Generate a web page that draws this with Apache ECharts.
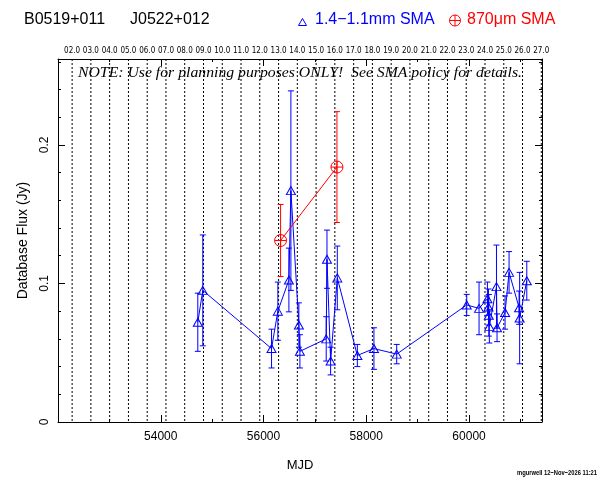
<!DOCTYPE html>
<html><head><meta charset="utf-8">
<script src="https://cdn.jsdelivr.net/npm/echarts@6/dist/echarts.min.js"></script>
<style>html,body{margin:0;padding:0;background:#fff}#c{width:601px;height:481px}</style>
</head><body><div id="c"></div>
<script>
// ---- data ----
const blueMJD  = [54721, 54818, 56156, 56279, 56494, 56533, 56688, 56708, 57220, 57235, 57306, 57436, 57826, 58149, 58592, 59955, 60195, 60358, 60378, 60385, 60395, 60534, 60545, 60701, 60779, 60974, 60985, 61124];
const blueFlux = [0.072, 0.095, 0.053, 0.080, 0.1025, 0.167, 0.070, 0.051, 0.060, 0.1175, 0.044, 0.104, 0.048, 0.053, 0.049, 0.0845, 0.082, 0.089, 0.083, 0.077, 0.069, 0.0977, 0.068, 0.079, 0.108, 0.0825, 0.075, 0.102];
const blueErr  = [0.021, 0.040, 0.014, 0.021, 0.023, 0.072, 0.016, 0.012, 0.016, 0.021, 0.010, 0.023, 0.008, 0.015, 0.007, 0.0076, 0.019, 0.012, 0.013, 0.015, 0.012, 0.030, 0.010, 0.012, 0.015, 0.012, 0.033, 0.014];
const redMJD  = [56332, 57429];
const redFlux = [0.131, 0.184];
const redErr  = [0.026, 0.040];

const yearMJD    = [52275, 52640, 53005, 53371, 53736, 54101, 54466, 54832, 55197, 55562, 55927, 56293, 56658, 57023, 57388, 57754, 58119, 58484, 58849, 59215, 59580, 59945, 60310, 60676, 61041, 61406];
const yearLabels = ['02.0','03.0','04.0','05.0','06.0','07.0','08.0','09.0','10.0','11.0','12.0','13.0','14.0','15.0','16.0','17.0','18.0','19.0','20.0','21.0','22.0','23.0','24.0','25.0','26.0','27.0'];
const xLabelValues = [54000, 56000, 58000, 60000];
const xMajorTicks  = [54000, 56000, 58000, 60000];
const xMinorTicks  = [53000, 55000, 57000, 59000, 61000];
const yLabelValues = [0, 0.1, 0.2];
const yMajorTicks  = [0.1, 0.2];
const yMinorTicks  = [0.02, 0.04, 0.06, 0.08, 0.12, 0.14, 0.16, 0.18, 0.22, 0.24, 0.26];

const X_MIN = 52000, X_MAX = 61420, Y_MIN = 0, Y_MAX = 0.262;
const BLUE = '#0000ff', RED = '#ff0000';
const SANS = '"Liberation Sans", Arial, sans-serif';

function measure(text, font) {
  const ctx = document.createElement('canvas').getContext('2d');
  ctx.font = font;
  return ctx.measureText(text).width;
}

const noteText = 'NOTE: Use for planning purposes ONLY!  See SMA policy for details.';
const noteFont = 'italic 14px "Liberation Serif", serif';
const noteScale = 444 / measure(noteText, noteFont);
const footText = 'mgurwell 12\u2212Nov\u22122026 11:21';
const footFont = 'bold 8px "Liberation Sans", sans-serif';
const footScale = 80 / measure(footText, footFont);

function errRender(color, cap) {
  return function (params, api) {
    const x = api.value(0), lo = api.value(1), hi = api.value(2);
    const p1 = api.coord([x, lo]), p2 = api.coord([x, hi]);
    const s = { stroke: color, lineWidth: 1 };
    return { type: 'group', children: [
      { type: 'line', shape: { x1: p1[0], y1: p1[1], x2: p2[0], y2: p2[1] }, style: s },
      { type: 'line', shape: { x1: p1[0] - cap, y1: p1[1], x2: p1[0] + cap, y2: p1[1] }, style: s },
      { type: 'line', shape: { x1: p2[0] - cap, y1: p2[1], x2: p2[0] + cap, y2: p2[1] }, style: s }
    ]};
  };
}

function yearRender(params, api) {
  const x = api.coord([api.value(0), 0])[0];
  const cs = params.coordSys;
  return { type: 'line', shape: { x1: x, y1: cs.y, x2: x, y2: cs.y + cs.height },
    style: { stroke: '#000', lineWidth: 1, lineDash: [2, 2] } };
}

const lineBlack = { color: '#000', width: 1 };
function xAx(pos, ticks, len, showLine, extra) {
  return Object.assign({
    type: 'value', position: pos, min: X_MIN, max: X_MAX,
    axisLine: { show: showLine, onZero: false, lineStyle: lineBlack },
    axisTick: { show: true, inside: true, length: len, customValues: ticks, lineStyle: lineBlack },
    axisLabel: { show: false }, splitLine: { show: false }
  }, extra || {});
}
function yAx(pos, ticks, len, showLine, extra) {
  return Object.assign({
    type: 'value', position: pos, min: Y_MIN, max: Y_MAX,
    axisLine: { show: showLine, onZero: false, lineStyle: lineBlack },
    axisTick: { show: true, inside: true, length: len, customValues: ticks, lineStyle: lineBlack },
    axisLabel: { show: false }, splitLine: { show: false }
  }, extra || {});
}

const option = {
  animation: false,
  backgroundColor: '#fff',
  grid: { left: 58, right: 59, top: 59, bottom: 59, containLabel: false },
  xAxis: [
    xAx('bottom', xMajorTicks, 7, true, {
      axisLabel: { show: true, customValues: xLabelValues, fontSize: 12, fontFamily: SANS, color: '#000', margin: 9,
        formatter: function (v) { return String(v); } },
      name: 'MJD', nameLocation: 'middle', nameGap: 37,
      nameTextStyle: { fontSize: 13, fontFamily: SANS, color: '#000' }
    }),
    xAx('bottom', xMinorTicks, 3, false),
    xAx('top', xMajorTicks, 7, true),
    xAx('top', xMinorTicks, 3, false),
    {
      type: 'value', position: 'top', min: X_MIN, max: X_MAX,
      axisLine: { show: false }, axisTick: { show: false }, splitLine: { show: false },
      axisLabel: { show: true, customValues: yearMJD, margin: 4, fontSize: 8,
        fontFamily: '"DejaVu Sans Condensed", "DejaVu Sans", sans-serif', color: '#000',
        formatter: function (v) { const i = yearMJD.indexOf(v); return i >= 0 ? yearLabels[i] : ''; } }
    }
  ],
  yAxis: [
    yAx('left', yMajorTicks, 7, true, {
      axisLabel: { show: true, customValues: yLabelValues, rotate: 90, fontSize: 12, fontFamily: SANS, color: '#000', margin: 7,
        formatter: function (v) { return v === 0 ? '0' : String(Math.round(v * 10) / 10); } },
      name: 'Database Flux (Jy)', nameLocation: 'middle', nameRotate: 90, nameGap: 28,
      nameTextStyle: { fontSize: 14, fontFamily: SANS, color: '#000' }
    }),
    yAx('left', yMinorTicks, 3, false),
    yAx('right', yMajorTicks, 7, true),
    yAx('right', yMinorTicks, 3, false)
  ],
  series: [
    { type: 'custom', name: 'years', renderItem: yearRender, silent: true, z: 1,
      xAxisIndex: 0, yAxisIndex: 0, encode: { x: 0, y: 1 },
      data: yearMJD.map(function (v) { return [v, 0]; }) },
    { type: 'custom', name: 'blueErr', renderItem: errRender(BLUE, 3), silent: true, z: 3,
      xAxisIndex: 0, yAxisIndex: 0, encode: { x: 0, y: [1, 2] },
      data: blueMJD.map(function (m, i) { return [m, blueFlux[i] - blueErr[i], blueFlux[i] + blueErr[i]]; }) },
    { type: 'custom', name: 'redErr', renderItem: errRender(RED, 3), silent: true, z: 3,
      xAxisIndex: 0, yAxisIndex: 0, encode: { x: 0, y: [1, 2] },
      data: redMJD.map(function (m, i) { return [m, redFlux[i] - redErr[i], redFlux[i] + redErr[i]]; }) },
    { type: 'line', name: '1.4-1.1mm SMA', z: 4, xAxisIndex: 0, yAxisIndex: 0,
      data: blueMJD.map(function (m, i) { return [m, blueFlux[i]]; }),
      symbol: 'triangle', symbolSize: [9, 8], showAllSymbol: true,
      lineStyle: { color: BLUE, width: 1 },
      itemStyle: { color: 'rgba(0,0,0,0)', borderColor: BLUE, borderWidth: 1 } },
    { type: 'line', name: '870um SMA', z: 4, xAxisIndex: 0, yAxisIndex: 0,
      data: redMJD.map(function (m, i) { return [m, redFlux[i]]; }),
      symbol: 'path://M0,6 A6,6 0 1 1 12,6 A6,6 0 1 1 0,6 Z M6,0 L6,12 M0,6 L12,6', symbolSize: 12, showAllSymbol: true,
      lineStyle: { color: RED, width: 1 },
      itemStyle: { color: 'rgba(0,0,0,0)', borderColor: RED, borderWidth: 1 } }
  ],
  graphic: [
    { type: 'text', x: 24, y: 20, style: { text: 'B0519+011', font: '16px ' + SANS, fill: '#000', verticalAlign: 'middle' } },
    { type: 'text', x: 130, y: 20, style: { text: 'J0522+012', font: '16px ' + SANS, fill: '#000', verticalAlign: 'middle' } },
    { type: 'polygon', shape: { points: [[298.5, 25.5], [306.5, 25.5], [302.5, 18.5]] }, style: { fill: 'none', stroke: BLUE, lineWidth: 1 } },
    { type: 'text', x: 315, y: 20, style: { text: '1.4\u22121.1mm SMA', font: '16px ' + SANS, fill: BLUE, verticalAlign: 'middle' } },
    { type: 'circle', shape: { cx: 455, cy: 20.5, r: 5.5 }, style: { fill: 'none', stroke: RED, lineWidth: 1 } },
    { type: 'line', shape: { x1: 449.5, y1: 20.5, x2: 460.5, y2: 20.5 }, style: { stroke: RED, lineWidth: 1 } },
    { type: 'line', shape: { x1: 455, y1: 15, x2: 455, y2: 26 }, style: { stroke: RED, lineWidth: 1 } },
    { type: 'text', x: 467, y: 20, style: { text: '870\u03bcm SMA', font: '16px ' + SANS, fill: RED, verticalAlign: 'middle' } },
    { type: 'text', x: 78, y: 73, scaleX: noteScale, z: 10, style: { text: noteText, font: noteFont, fill: '#000', verticalAlign: 'middle' } },
    { type: 'text', x: 517, y: 473, scaleX: footScale, style: { text: footText, font: footFont, fill: '#000', verticalAlign: 'middle' } }
  ]
};

const chart = echarts.init(document.getElementById('c'), null, { renderer: 'canvas' });
chart.setOption(option);
</script>
</body></html>
